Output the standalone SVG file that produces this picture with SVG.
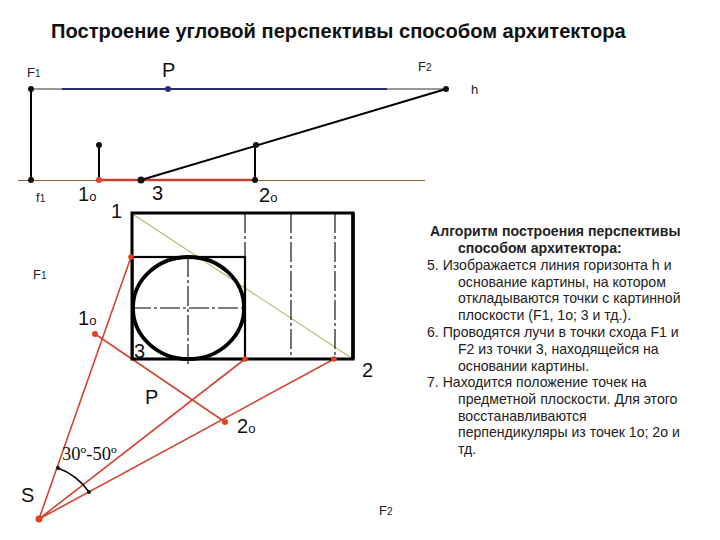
<svg xmlns="http://www.w3.org/2000/svg" width="720" height="540" viewBox="0 0 720 540">
<style>
text{font-family:"Liberation Sans",Arial,sans-serif;fill:#111}
.t{font-size:13px;fill:#222}
.a{font-size:14.100px;fill:#222}
.l{font-size:20px}
.u{font-size:13px}
.s{font-size:10px}
.b{stroke:#000;fill:none}
.d{stroke:#000;stroke-width:1.100;fill:none;stroke-dasharray:20 3 3 3}
.r{stroke:#d2452f;stroke-width:1.600;fill:none}
.k{fill:#111}
.o{fill:#e8401c}
</style>
<rect width="720" height="540" fill="#fff"/>
<text x="51" y="38" style="font-size:20.100px;font-weight:bold">Построение угловой перспективы способом архитектора</text>
<g id="connectors">
<path d="M31 89H446" stroke="#333" stroke-width="1"/>
<path d="M62 89H387" stroke="#2c2c72" stroke-width="2"/>
<path d="M18 180.500H425" stroke="#8a6a2a" stroke-width="1"/>
<path d="M99 180H255" stroke="#c8402c" stroke-width="2.600"/>
<path class="b" stroke-width="2" d="M31 89V180M99 145V180M255 145V180M141 180L446 89"/>
<path d="M131 213L353 359" stroke="#b8bc70" stroke-width="1.200"/>
<path class="d" d="M245 213V257M291 213V359M335 213V359M188 257V366M131 308H245"/>
<path class="r" d="M39 519L131 257M39 519L245 359M39 519L334 359M95 334L225 422"/>
<path class="b" stroke-width="1.500" d="M58 468Q77 475 89 492"/>
</g>
<g id="drawing">
<rect class="b" x="132" y="213" width="221" height="146" stroke-width="3"/>
<path class="b" stroke-width="3.500" d="M353 213V359"/>
<rect class="b" x="132.500" y="257" width="112.500" height="102" stroke-width="2.200"/>
<ellipse class="b" cx="188.500" cy="308" rx="55.500" ry="51" stroke-width="3.800"/>
</g>
<g id="node-F1"><circle class="k" cx="31" cy="89" r="3"/><text class="t" x="27" y="77">F<tspan class="s">1</tspan></text></g>
<g id="node-P"><circle cx="168" cy="89" r="3" fill="#2c2c72"/><text class="l" x="162" y="77">P</text></g>
<g id="node-F2"><circle class="k" cx="446" cy="89" r="3"/><text class="t" x="418" y="71">F<tspan class="s">2</tspan></text><text class="t" x="471" y="94">h</text></g>
<g id="node-f1"><circle class="k" cx="31" cy="180" r="3"/><text class="t" x="36" y="202">f<tspan class="s">1</tspan></text></g>
<g id="node-1o"><circle class="k" cx="99" cy="145" r="3"/><circle class="o" cx="99" cy="180" r="3"/><text class="l" x="78" y="201">1<tspan class="u">o</tspan></text></g>
<g id="node-3"><circle class="k" cx="141" cy="180" r="3.500"/><text class="l" x="152" y="200">3</text></g>
<g id="node-2o"><circle class="k" cx="256" cy="145" r="3"/><circle class="k" cx="255" cy="180" r="3"/><text class="l" x="259" y="202">2<tspan class="u">o</tspan></text></g>
<g id="node-1"><text class="l" x="111" y="218">1</text></g>
<g id="node-F1b"><text class="t" x="33" y="279">F<tspan class="s">1</tspan></text></g>
<g id="node-1ob"><circle class="o" cx="95" cy="334" r="3"/><text class="l" x="78" y="325">1<tspan class="u">o</tspan></text></g>
<g id="node-3b"><text class="l" x="134" y="358">3</text></g>
<g id="node-2"><text class="l" x="362" y="377">2</text></g>
<g id="node-Pb"><text class="l" x="145" y="404">P</text></g>
<g id="node-2ob"><circle class="o" cx="225" cy="422" r="3"/><text class="l" x="237" y="433">2<tspan class="u">o</tspan></text></g>
<g id="node-S"><circle class="o" cx="39" cy="519" r="3.500"/><text class="l" x="21" y="502">S</text></g>
<g id="node-F2b"><text class="t" x="379" y="515">F<tspan class="s">2</tspan></text></g>
<g id="points"><circle class="o" cx="131" cy="257" r="2.800"/><circle class="o" cx="245" cy="359" r="2.800"/><circle class="o" cx="334" cy="359" r="2.800"/><circle class="k" cx="58" cy="468" r="2"/><circle class="k" cx="89" cy="492" r="2"/></g>
<g id="angle"><text x="62" y="460" style="font-family:'Liberation Serif',serif;font-size:18.500px">30º-50º</text></g>
<g id="algorithm">
<text class="a" style="font-weight:bold" x="430" y="236">Алгоритм построения перспективы</text>
<text class="a" style="font-weight:bold" x="458" y="253">способом архитектора:</text>
<text class="a" x="427" y="270">5. Изображается линия горизонта h и</text>
<text class="a" x="458" y="287">основание картины, на котором</text>
<text class="a" x="458" y="303">откладываются точки с картинной</text>
<text class="a" x="458" y="320">плоскости (F1, 1o; 3 и тд.).</text>
<text class="a" x="427" y="337">6. Проводятся лучи в точки схода F1 и</text>
<text class="a" x="458" y="354">F2 из точки 3, находящейся на</text>
<text class="a" x="458" y="371">основании картины.</text>
<text class="a" x="427" y="387">7. Находится положение точек на</text>
<text class="a" x="458" y="404">предметной плоскости.  Для этого</text>
<text class="a" x="458" y="421">восстанавливаются</text>
<text class="a" x="458" y="437">перпендикуляры из точек 1o; 2o и</text>
<text class="a" x="458" y="454">тд.</text>
</g>
</svg>
